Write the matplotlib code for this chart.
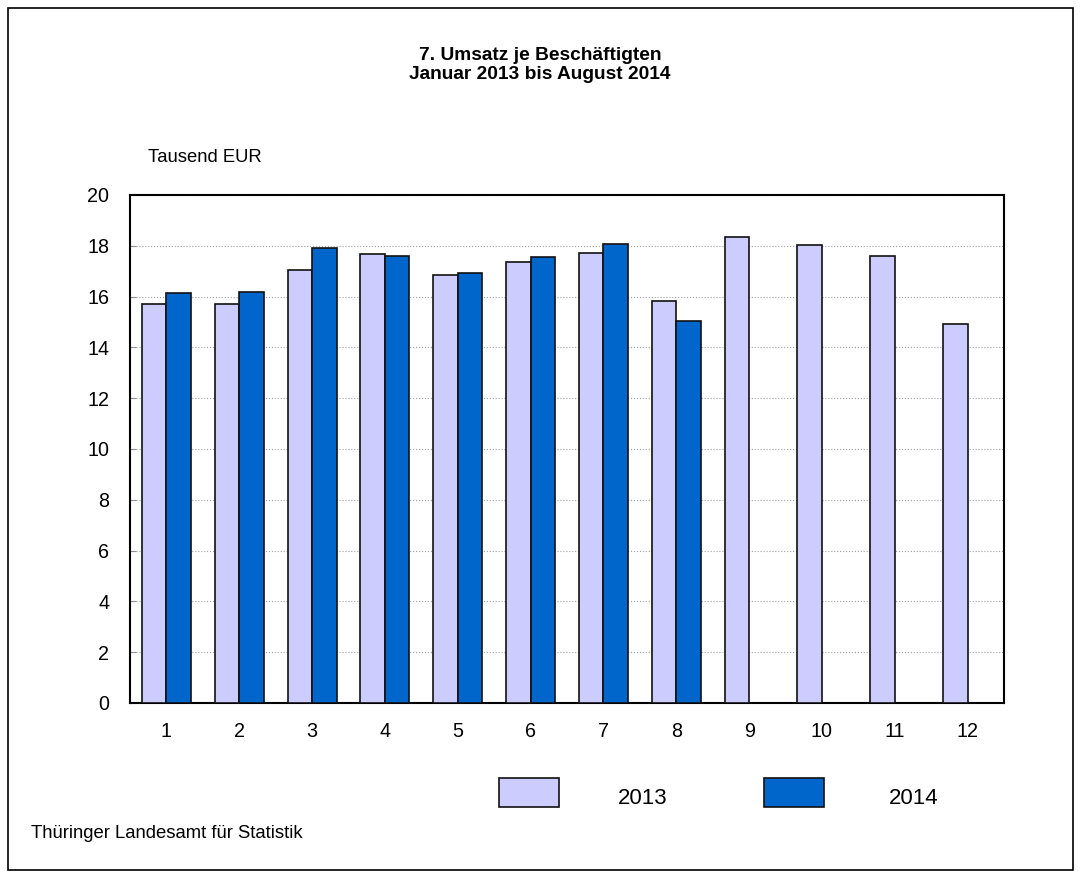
import matplotlib.pyplot as plt
from matplotlib.patches import Rectangle
import numpy as np

plt.rcParams['font.family'] = ['Liberation Sans', 'DejaVu Sans']

months = ['1', '2', '3', '4', '5', '6', '7', '8', '9', '10', '11', '12']
umsatz_2013 = [15.69, 15.71, 17.06, 17.69, 16.84, 17.35, 17.73, 15.84, 18.35, 18.04, 17.58, 14.94]
umsatz_2014 = [16.13, 16.18, 17.91, 17.58, 16.91, 17.57, 18.09, 15.02]

W, H = 1081, 877
fig = plt.figure(figsize=(W / 100, H / 100), dpi=100)

# outer frame
fig.patches.append(Rectangle((8 / W, 1 - 870 / H), 1065 / W, 862 / H, transform=fig.transFigure,
                             fill=False, edgecolor='black', linewidth=1.2))

ax = fig.add_axes([130 / W, 1 - 703 / H, 874 / W, 508 / H])
x = np.arange(len(months))
bw = 0.336
ax.bar(x[:len(umsatz_2013)] - bw / 2, umsatz_2013, width=bw, color='#ccccff',
       edgecolor='#111111', linewidth=1.2, zorder=3)
ax.bar(x[:len(umsatz_2014)] + bw / 2, umsatz_2014, width=bw, color='#0066cc',
       edgecolor='#111111', linewidth=1.2, zorder=3)

ax.set_xlim(-0.5, len(months) - 0.5)
ax.set_ylim(0, 20)
ax.set_yticks(range(0, 21, 2))
ax.set_xticks(x)
ax.set_xticklabels(months)
ax.tick_params(axis='x', length=0, pad=14, labelsize=14.2)
ax.tick_params(axis='y', length=4, direction='in', pad=15, labelsize=14.2, color='#909090')
ax.yaxis.grid(True, color='#a0a0a0', linestyle=':', linewidth=0.8)
ax.set_axisbelow(True)
for s in ax.spines.values():
    s.set_linewidth(1.5)

fig.text(540 / W, 1 - 65 / H, '7. Umsatz je Beschäftigten\nJanuar 2013 bis August 2014',
         ha='center', va='center', fontsize=13.8, fontweight='bold', linespacing=1.2)
fig.text(148 / W, 1 - 158 / H, 'Tausend EUR', ha='left', va='center', fontsize=13.3)
fig.text(31 / W, 1 - 833 / H, 'Thüringer Landesamt für Statistik', ha='left', va='center', fontsize=13.3)

# legend
for x0, label, col, tx in [(499, '2013', '#ccccff', 618), (764, '2014', '#0066cc', 889)]:
    fig.patches.append(Rectangle((x0 / W, 1 - 807 / H), 60 / W, 29 / H, transform=fig.transFigure,
                                 facecolor=col, edgecolor='#111111', linewidth=1.2))
    fig.text(tx / W, 1 - 799 / H, label, ha='left', va='center', fontsize=16)

fig.savefig('out.png', dpi=100)
